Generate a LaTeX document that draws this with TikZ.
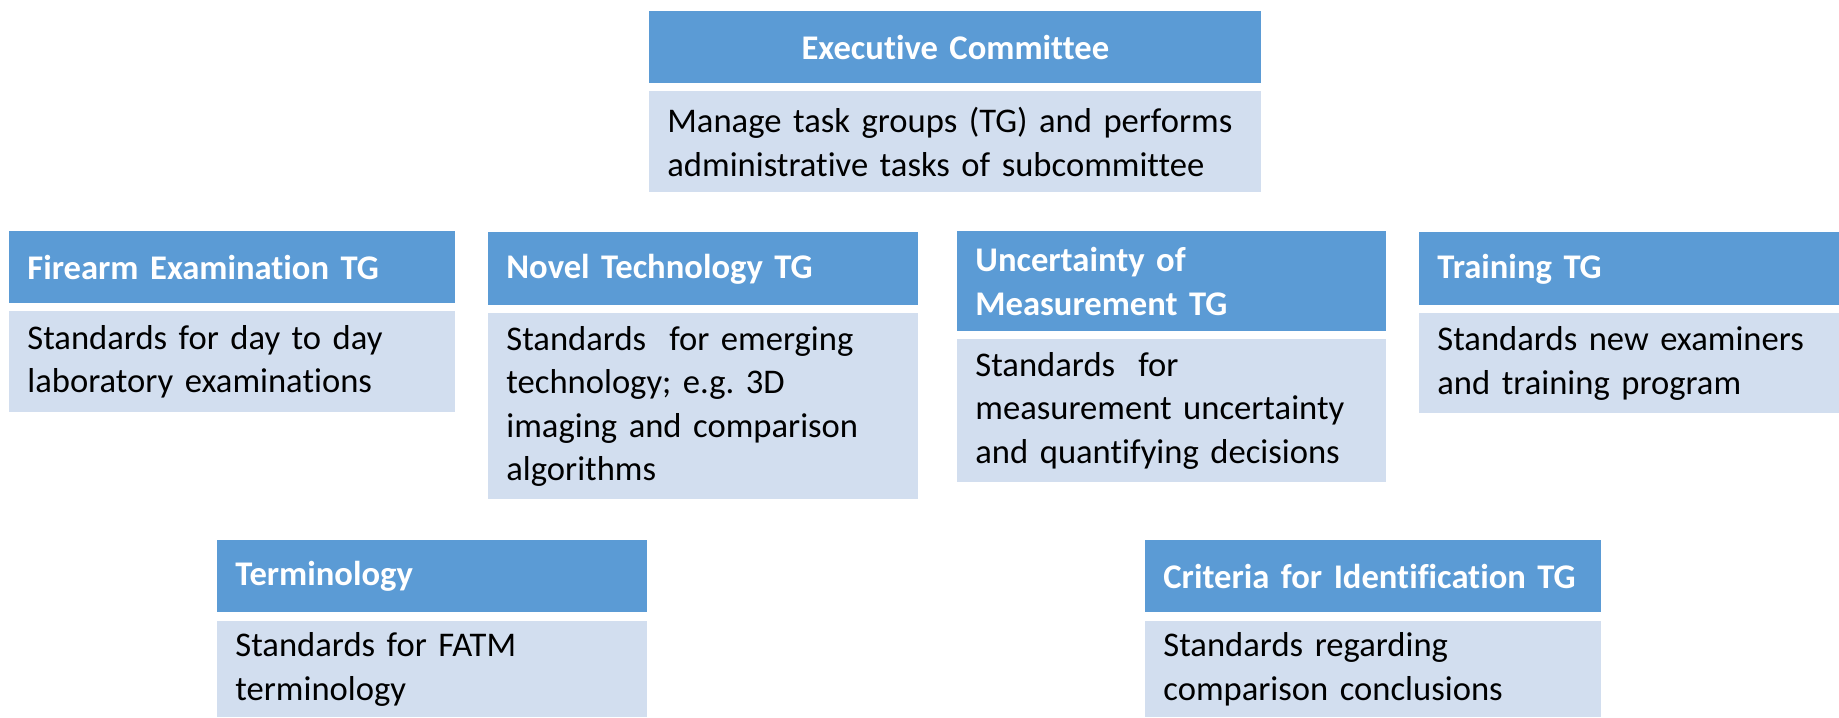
\documentclass[tikz,border=0pt]{standalone}
\usepackage{fontspec}
\setmainfont{Carlito}[Ligatures=NoCommon]
\definecolor{tgBlue}{RGB}{91,155,213}
\definecolor{tgPale}{RGB}{210,222,239}
\newcommand{\tgFont}{\fontsize{17.3}{21.8}\selectfont\frenchspacing\hyphenpenalty=10000 }

\begin{document}
\begin{tikzpicture}[x=0.5pt,y=-0.5pt,
  tghead/.style={anchor=north west, fill=tgBlue, text=white, font=\tgFont\bfseries,
    inner xsep=9pt, inner ysep=0pt, align=left, text width=#1},
  tgnote/.style={anchor=north west, fill=tgPale, text=black, font=\tgFont,
    inner xsep=9pt, inner ysep=0pt, align=left, text width=#1}]
\useasboundingbox (0,0) rectangle (1839,717);
% committee on top
\node[tghead=288pt, align=center, minimum height=36pt] (exec) at (649,11) {Executive Committee};
\node[tgnote=288pt, minimum height=50.5pt] (execNote) at (649,91) {Manage task groups (TG) and performs\\administrative tasks of subcommittee};
% task groups, middle row
\node[tghead=205pt, minimum height=36pt] (firearm) at (9,231) {Firearm Examination TG};
\node[tgnote=205pt, minimum height=50.5pt] (firearmNote) at (9,311) {Standards for day to day\\laboratory examinations};
\node[tghead=197pt, minimum height=36.5pt] (novel) at (488,232) {Novel Technology TG};
\node[tgnote=197pt, minimum height=93pt] (novelNote) at (488,313) {Standards~ for emerging\\technology; e.g. 3D\\imaging and comparison\\algorithms};
\node[tghead=196.5pt, minimum height=50pt] (uncert) at (957,231) {Uncertainty of\\Measurement TG};
\node[tgnote=196.5pt, minimum height=71.5pt] (uncertNote) at (957,339) {Standards~ for\\measurement uncertainty\\and quantifying decisions};
\node[tghead=192pt, minimum height=36.5pt] (training) at (1419,232) {Training TG};
\node[tgnote=192pt, minimum height=50pt] (trainingNote) at (1419,313) {Standards new examiners\\and training program};
% bottom row
\node[tghead=197pt, minimum height=36pt] (termin) at (217,540) {Terminology};
\node[tgnote=197pt, minimum height=48pt] (terminNote) at (217,621) {Standards for FATM\\terminology};
\node[tghead=210pt, minimum height=36pt] (criteria) at (1145,540) {Criteria for Identification TG};
\node[tgnote=210pt, minimum height=48pt] (criteriaNote) at (1145,621) {Standards regarding\\comparison conclusions};
\end{tikzpicture}
\end{document}
